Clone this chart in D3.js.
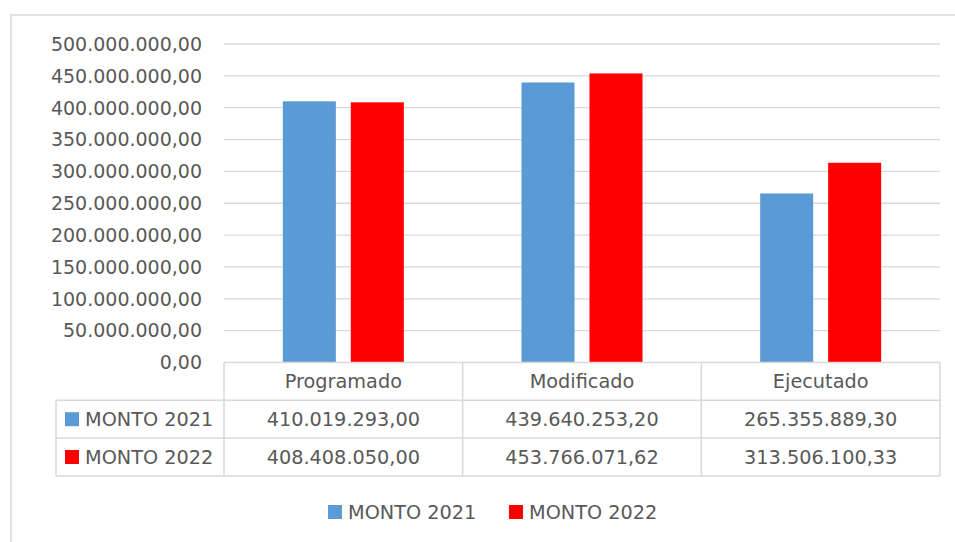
<!DOCTYPE html>
<html>
<head>
<meta charset="utf-8">
<script src="https://cdn.jsdelivr.net/npm/d3@7"></script>
<style>
  body { margin: 0; background: #fff; }
  svg { display: block; font-family: 'DejaVu Sans', sans-serif; }
</style>
</head>
<body>
<svg width="955" height="542"></svg>
<script>
const categories = ['Programado', 'Modificado', 'Ejecutado'];
const seriesNames = ['MONTO 2021', 'MONTO 2022'];
const monto2021 = [410019293.00, 439640253.20, 265355889.30];
const monto2022 = [408408050.00, 453766071.62, 313506100.33];
const yTicks = [0, 50e6, 100e6, 150e6, 200e6, 250e6, 300e6, 350e6, 400e6, 450e6, 500e6];
const colors = ['#5b9bd5', '#ff0000'];

const series = [monto2021, monto2022];

const svg = d3.select('svg');
const gridColor = '#d9d9d9';
const textColor = '#595959';

// number format like 410.019.293,00
const locale = d3.formatLocale({ decimal: ',', thousands: '.', grouping: [3], currency: ['', ''] });
const fmt = locale.format(',.2f');

const plot = { left: 224, right: 940, top: 44, bottom: 362.5 };
const rowH = 37.8;
const fs = '19.3px';

// outer chart border
svg.append('rect')
    .attr('x', 11).attr('y', 15)
    .attr('width', 960).attr('height', 560)
    .attr('fill', 'none')
    .attr('stroke', gridColor)
    .attr('stroke-width', 1.5);

const x = d3.scaleBand()
    .domain(categories)
    .range([plot.left, plot.right]);

const xInner = d3.scaleBand()
    .domain([0, 1])
    .range([0, 121])
    .paddingInner(0.22);

const y = d3.scaleLinear()
    .domain([0, 500e6])
    .range([plot.bottom, plot.top]);

// gridlines
svg.append('g').selectAll('line').data(yTicks.slice(1))
    .enter().append('line')
    .attr('x1', plot.left).attr('x2', plot.right)
    .attr('y1', d => y(d)).attr('y2', d => y(d))
    .attr('stroke', gridColor)
    .attr('stroke-width', 1.3);

// y tick labels
svg.append('g').selectAll('text').data(yTicks)
    .enter().append('text')
    .attr('x', 202)
    .attr('y', d => y(d))
    .attr('dy', '0.36em')
    .attr('text-anchor', 'end')
    .attr('font-size', '19px')
    .attr('fill', textColor)
    .text(d => fmt(d));

// bars
const groups = svg.append('g').selectAll('g').data(categories)
    .enter().append('g')
    .attr('transform', d => `translate(${x(d) + (x.bandwidth() - 121) / 2},0)`);

groups.selectAll('rect')
    .data((c, i) => series.map((s, j) => ({ s: j, v: s[i] })))
    .enter().append('rect')
    .attr('x', d => xInner(d.s))
    .attr('width', xInner.bandwidth())
    .attr('y', d => y(d.v))
    .attr('height', d => y(0) - y(d.v))
    .attr('fill', d => colors[d.s]);

// data table
const table = svg.append('g')
    .attr('stroke', gridColor)
    .attr('stroke-width', 1.5);

const tableTop = plot.bottom;
const legendLeft = 56;

// horizontal lines
table.append('line')
    .attr('x1', plot.left).attr('x2', plot.right)
    .attr('y1', tableTop).attr('y2', tableTop);
[1, 2, 3].forEach(r => {
    table.append('line')
        .attr('x1', legendLeft).attr('x2', plot.right)
        .attr('y1', tableTop + r * rowH).attr('y2', tableTop + r * rowH);
});
// vertical lines
table.append('line')
    .attr('x1', legendLeft).attr('x2', legendLeft)
    .attr('y1', tableTop + rowH).attr('y2', tableTop + 3 * rowH);
categories.forEach(c => {
    table.append('line')
        .attr('x1', x(c)).attr('x2', x(c))
        .attr('y1', tableTop).attr('y2', tableTop + 3 * rowH);
});
table.append('line')
    .attr('x1', plot.right).attr('x2', plot.right)
    .attr('y1', tableTop).attr('y2', tableTop + 3 * rowH);

// header text
svg.append('g').selectAll('text').data(categories)
    .enter().append('text')
    .attr('x', d => x(d) + x.bandwidth() / 2)
    .attr('y', tableTop + rowH / 2)
    .attr('dy', '0.36em')
    .attr('text-anchor', 'middle')
    .attr('font-size', fs)
    .attr('fill', textColor)
    .text(d => d);

// rows
series.forEach((s, j) => {
    const cy = tableTop + rowH * (j + 1) + rowH / 2;
    svg.append('rect')
        .attr('x', 65).attr('y', cy - 7)
        .attr('width', 14).attr('height', 14)
        .attr('fill', colors[j]);
    svg.append('text')
        .attr('x', 85).attr('y', cy)
        .attr('dy', '0.36em')
        .attr('font-size', fs)
        .attr('fill', textColor)
        .text(seriesNames[j]);
    svg.append('g').selectAll('text').data(s)
        .enter().append('text')
        .attr('x', (d, i) => x(categories[i]) + x.bandwidth() / 2)
        .attr('y', cy)
        .attr('dy', '0.36em')
        .attr('text-anchor', 'middle')
        .attr('font-size', fs)
        .attr('fill', textColor)
        .text(d => fmt(d));
});

// legend
const legendX = [328, 509];
const legend = svg.append('g').selectAll('g').data(seriesNames)
    .enter().append('g')
    .attr('transform', (d, i) => `translate(${legendX[i]},512)`);
legend.append('rect')
    .attr('x', 0).attr('y', -7)
    .attr('width', 14).attr('height', 14)
    .attr('fill', (d, i) => colors[i]);
legend.append('text')
    .attr('x', 20)
    .attr('dy', '0.36em')
    .attr('font-size', fs)
    .attr('fill', textColor)
    .text(d => d);
</script>
</body>
</html>
